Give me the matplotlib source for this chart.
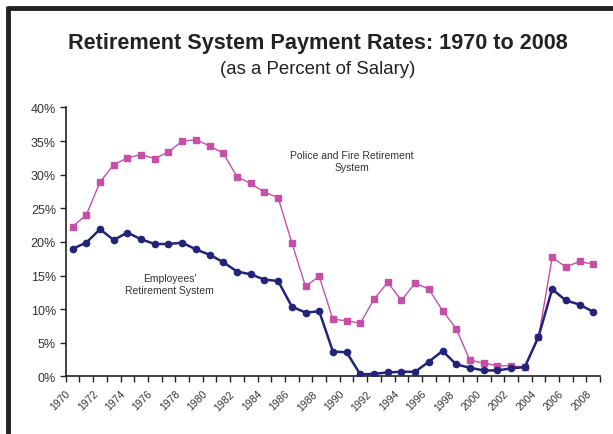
import matplotlib
matplotlib.use("Agg")
import matplotlib.pyplot as plt
from matplotlib.lines import Line2D
import matplotlib.transforms as mtransforms
import numpy as np

years = list(range(1970, 2009))
police_fire = [22.3, 24.0, 28.9, 31.5, 32.5, 33.0, 32.4, 33.4, 35.0, 35.2,
               34.3, 33.2, 29.7, 28.7, 27.4, 26.6, 19.9, 13.4, 14.9, 8.5,
               8.3, 7.9, 11.5, 14.0, 11.3, 13.9, 13.0, 9.8, 7.1, 2.4,
               2.0, 1.6, 1.6, 1.4, 5.8, 17.7, 16.3, 17.1, 16.7]
employees = [19.0, 19.9, 21.9, 20.3, 21.4, 20.4, 19.7, 19.7, 19.9, 18.9,
             18.1, 17.0, 15.6, 15.2, 14.4, 14.2, 10.4, 9.5, 9.7, 3.7,
             3.6, 0.3, 0.4, 0.6, 0.7, 0.7, 2.2, 3.8, 1.8, 1.3,
             0.9, 0.9, 1.2, 1.4, 5.9, 13.0, 11.3, 10.7, 9.6]
tick_years = list(range(1970, 2010))
yticks = [0, 5, 10, 15, 20, 25, 30, 35, 40]

title = "Retirement System Payment Rates: 1970 to 2008"
subtitle = "(as a Percent of Salary)"
pf_label = "Police and Fire Retirement\nSystem"
emp_label = "Employees'\nRetirement System"

plt.rcParams['font.family'] = ['Liberation Sans', 'DejaVu Sans']

fig = plt.figure(figsize=(6.13, 4.35), dpi=100)
ax = fig.add_axes([0.1072, 0.1322, 0.979 - 0.1072, 0.7506 - 0.1322])

x = np.array(years) + 0.5
pink = '#c64fa8'
navy = '#23237a'
ax.plot(x, police_fire, color=pink, lw=1.0, marker='s', ms=5, mfc=pink, mec=pink, zorder=3)
ax.plot(x, employees, color=navy, lw=1.8, marker='o', ms=4.5, mfc=navy, mec=navy, zorder=4)

ax.set_xlim(1970, 2009)
ax.set_ylim(0, 40)
ax.set_yticks(yticks)
ax.set_yticklabels([f"{v}%" for v in yticks])
ax.set_xticks(tick_years)
ax.set_xticklabels([str(y) if (y % 2 == 0 and y <= 2008) else '' for y in tick_years],
                   rotation=45, ha='right', va='center', rotation_mode='anchor')
ax.tick_params(axis='x', direction='out', length=4, width=1, color='#222222',
               pad=7, labelsize=7.5, labelcolor='#333333')
ax.tick_params(axis='y', direction='out', length=4, width=1, color='#222222',
               labelsize=9, labelcolor='#333333', pad=3)
offset = mtransforms.ScaledTranslation(0.03, 0, fig.dpi_scale_trans)
for lbl in ax.get_xticklabels():
    lbl.set_transform(lbl.get_transform() + offset)
for s in ['top', 'right']:
    ax.spines[s].set_visible(False)
for s in ['left', 'bottom']:
    ax.spines[s].set_color('#222222')
    ax.spines[s].set_linewidth(1.2)

ax.text(1990.9, 32.0, pf_label, ha='center', va='center', fontsize=7.5, color='#333333', linespacing=1.25)
ax.text(1977.6, 13.8, emp_label, ha='center', va='center', fontsize=7.5, color='#333333', linespacing=1.25)

fig.text(0.518, 1 - 43 / 435, title, ha='center', va='center', fontsize=15.6, fontweight='bold', color='#222222')
fig.text(0.518, 1 - 69 / 435, subtitle, ha='center', va='center', fontsize=13.4, color='#222222')

# frame border (top and left)
fig.add_artist(Line2D([7.5 / 613, 1.0], [1 - 9 / 435, 1 - 9 / 435], transform=fig.transFigure,
                      color='#222222', lw=3.5, solid_capstyle='butt'))
fig.add_artist(Line2D([7.5 / 613, 7.5 / 613], [1 - 7 / 435, 0.0], transform=fig.transFigure,
                      color='#222222', lw=3.5, solid_capstyle='butt'))

fig.savefig('out.png', dpi=100)
